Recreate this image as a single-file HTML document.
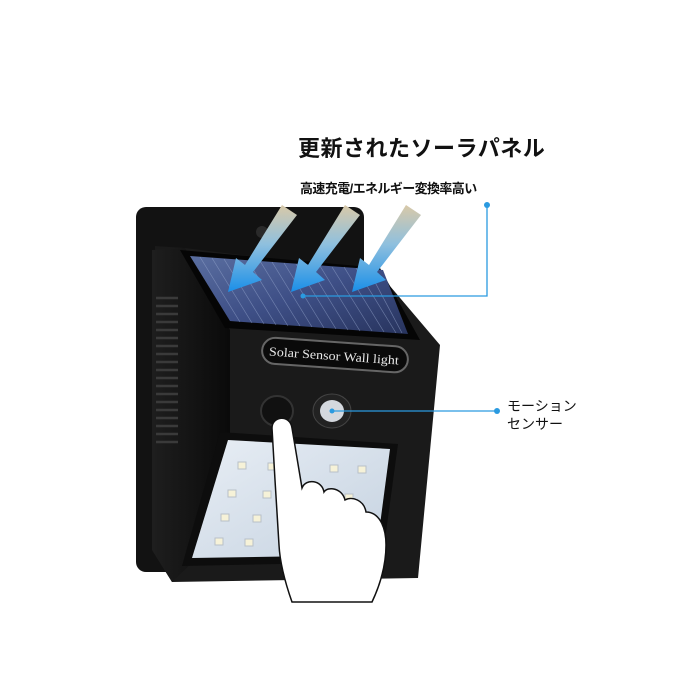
<!DOCTYPE html>
<html><head><meta charset="utf-8">
<style>
html,body{margin:0;padding:0;background:#fff;}
body{width:700px;height:700px;position:relative;overflow:hidden;font-family:"Liberation Sans","Noto Sans CJK JP",sans-serif;}
.t{position:absolute;color:#111;white-space:nowrap;}
</style></head><body>
<svg width="700" height="700" viewBox="0 0 700 700" style="position:absolute;left:0;top:0">
<defs>
<linearGradient id="ar" x1="0" y1="0" x2="0" y2="1">
<stop offset="0" stop-color="#d9c9a8"/><stop offset="0.45" stop-color="#8fc0de"/><stop offset="1" stop-color="#1a8fe8"/></linearGradient>
<linearGradient id="sp" x1="0" y1="0" x2="1" y2="1">
<stop offset="0" stop-color="#5a6ea0"/><stop offset="0.5" stop-color="#3e4f86"/><stop offset="1" stop-color="#28345e"/></linearGradient>
<linearGradient id="led" x1="0" y1="0" x2="1" y2="1">
<stop offset="0" stop-color="#e8eef5"/><stop offset="1" stop-color="#c5d2e0"/></linearGradient>
<linearGradient id="side" x1="0" y1="0" x2="1" y2="0">
<stop offset="0" stop-color="#1e1e1e"/><stop offset="1" stop-color="#0a0a0a"/></linearGradient>
</defs>
<rect x="136" y="207" width="228" height="365" rx="10" fill="#121212"/>
<circle cx="262" cy="232" r="6" fill="#2a2a2a"/>
<path d="M155 246 L185 248 L378 272 L440 345 L418 578 L172 582 L152 550 Z" fill="#1a1a1a"/>
<path d="M152 250 L185 248 L230 330 L230 440 L195 560 L172 582 L152 550 Z" fill="url(#side)"/>
<g stroke="#3a3a3a" stroke-width="2.5">
<line x1="156" y1="298" x2="178" y2="298"/><line x1="156" y1="306" x2="178" y2="306"/><line x1="156" y1="314" x2="178" y2="314"/><line x1="156" y1="322" x2="178" y2="322"/><line x1="156" y1="330" x2="178" y2="330"/><line x1="156" y1="338" x2="178" y2="338"/><line x1="156" y1="346" x2="178" y2="346"/><line x1="156" y1="354" x2="178" y2="354"/><line x1="156" y1="362" x2="178" y2="362"/><line x1="156" y1="370" x2="178" y2="370"/><line x1="156" y1="378" x2="178" y2="378"/><line x1="156" y1="386" x2="178" y2="386"/><line x1="156" y1="394" x2="178" y2="394"/><line x1="156" y1="402" x2="178" y2="402"/><line x1="156" y1="410" x2="178" y2="410"/><line x1="156" y1="418" x2="178" y2="418"/><line x1="156" y1="426" x2="178" y2="426"/><line x1="156" y1="434" x2="178" y2="434"/><line x1="156" y1="442" x2="178" y2="442"/>
</g>
<path d="M180 250 L380 268 L420 340 L225 328 Z" fill="#050505"/>
<path d="M190 256 L383 270 L408 334 L230 321 Z" fill="url(#sp)"/>
<g stroke="#9aaad0" stroke-width="0.7" opacity="0.55">
<line x1="200" y1="257" x2="240" y2="322"/><line x1="212" y1="258" x2="252" y2="323"/><line x1="224" y1="259" x2="264" y2="324"/><line x1="236" y1="260" x2="276" y2="325"/><line x1="248" y1="261" x2="288" y2="326"/><line x1="260" y1="261" x2="300" y2="326"/><line x1="272" y1="262" x2="312" y2="327"/><line x1="284" y1="263" x2="324" y2="328"/><line x1="296" y1="264" x2="336" y2="329"/><line x1="308" y1="265" x2="348" y2="330"/><line x1="320" y1="266" x2="360" y2="331"/><line x1="332" y1="267" x2="372" y2="331"/><line x1="344" y1="267" x2="384" y2="332"/><line x1="356" y1="268" x2="396" y2="333"/><line x1="368" y1="269" x2="402" y2="333"/>
</g>
<g transform="rotate(4 334 355)">
<rect x="262" y="342" width="146" height="26" rx="13" fill="#0a0a0a" stroke="#666" stroke-width="2"/>
<text x="269" y="360" font-family="Liberation Serif,serif" font-size="12.5" fill="#e8e8e8" textLength="130" lengthAdjust="spacingAndGlyphs">Solar Sensor Wall light</text>
</g>
<ellipse cx="277" cy="411" rx="16" ry="15" fill="#111" stroke="#333" stroke-width="2"/>
<ellipse cx="332" cy="411" rx="19" ry="17" fill="#222" stroke="#444"/>
<ellipse cx="332" cy="411" rx="12" ry="11" fill="#d4d8de"/>
<path d="M220 432 L398 444 L382 562 L182 566 Z" fill="#0d0d0d"/>
<path d="M228 440 L390 449 L376 555 L192 558 Z" fill="url(#led)"/>
<g fill="#f6f2d8" stroke="#b8c0c8" stroke-width="1">
<rect x="238" y="462" width="8" height="7"/><rect x="268" y="463" width="8" height="7"/><rect x="330" y="465" width="8" height="7"/><rect x="358" y="466" width="8" height="7"/>
<rect x="228" y="490" width="8" height="7"/><rect x="263" y="491" width="8" height="7"/><rect x="345" y="494" width="8" height="7"/>
<rect x="221" y="514" width="8" height="7"/><rect x="253" y="515" width="8" height="7"/>
<rect x="215" y="538" width="8" height="7"/><rect x="245" y="539" width="8" height="7"/>
</g>
<path d="M272 428 C272 416 290 414 292 428 L302 488 C306 478 322 480 324 492 C328 486 342 488 345 500 C352 496 364 500 366 512 C378 512 386 525 386 545 C386 565 380 585 372 602 L292 602 C286 585 280 565 279 545 L275 480 Z" fill="#fff" stroke="#111" stroke-width="1.5"/>
<path d="M282 205 L297 215 L253 272 L262 280 L228 292 L236 258 L245 265 Z" fill="url(#ar)"/>
<path d="M345 205 L360 215 L316 272 L325 280 L291 292 L299 258 L308 265 Z" fill="url(#ar)"/>
<path d="M406 205 L421 215 L377 272 L386 280 L352 292 L360 258 L369 265 Z" fill="url(#ar)"/>
<g stroke="#2a9ae0" stroke-width="1.3" fill="none">
<polyline points="303,296 487,296 487,205"/>
<line x1="332" y1="411" x2="497" y2="411"/>
</g>
<circle cx="303" cy="296" r="2.5" fill="#2a9ae0"/>
<circle cx="332" cy="411" r="2.5" fill="#2a9ae0"/>
<circle cx="487" cy="205" r="3" fill="#2a9ae0"/>
<circle cx="497" cy="411" r="3" fill="#2a9ae0"/>
</svg>
<div class="t" style="left:298px;top:131px;font-size:22px;font-weight:bold;letter-spacing:0.5px">更新されたソーラパネル</div>
<div class="t" style="left:300px;top:178px;font-size:13px;font-weight:bold;letter-spacing:-0.6px">高速充電/エネルギー変換率高い</div>
<div class="t" style="left:507px;top:397px;font-size:14px;line-height:18px">モーション<br>センサー</div>
</body></html>
